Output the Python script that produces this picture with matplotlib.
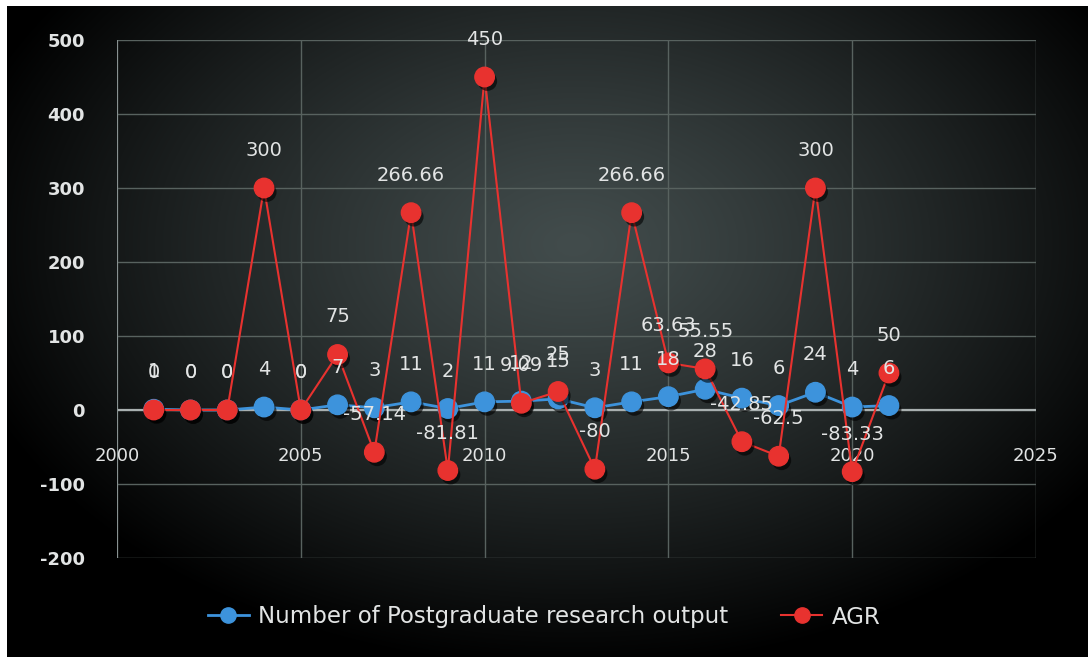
import numpy as np
import matplotlib
matplotlib.use("Agg")
import matplotlib.pyplot as plt
import matplotlib.patheffects as pe
from matplotlib.lines import Line2D

# data
years = [2001, 2002, 2003, 2004, 2005, 2006, 2007, 2008, 2009, 2010, 2011,
         2012, 2013, 2014, 2015, 2016, 2017, 2018, 2019, 2020, 2021]
output = [1, 0, 0, 4, 0, 7, 3, 11, 2, 11, 12, 15, 3, 11, 18, 28, 16, 6, 24, 4, 6]
agr = [0, 0, 0, 300, 0, 75, -57.14, 266.66, -81.81, 450, 9.09, 25, -80,
       266.66, 63.63, 55.55, -42.85, -62.5, 300, -83.33, 50]
output_labels = [str(v) for v in output]
agr_labels = ["0", "0", "0", "300", "0", "75", "-57.14", "266.66", "-81.81",
              "450", "9.09", "25", "-80", "266.66", "63.63", "55.55", "-42.85",
              "-62.5", "300", "-83.33", "50"]
xticks = [2000, 2005, 2010, 2015, 2020, 2025]
yticks = [-200, -100, 0, 100, 200, 300, 400, 500]

blue = "#3d93dc"
red = "#e8322f"
txt = "#e2e4e4"
grid_c = "#58625f"

W, H = 1088, 657
fig = plt.figure(figsize=(W / 100, H / 100), dpi=100, facecolor="white")

# dark radial background
bg = fig.add_axes([7 / W, 0, 1 - 7 / W, 1 - 6 / H])
yy, xx = np.mgrid[0:H, 0:W]
r = np.sqrt(((xx - 570) / 640.0) ** 2 + ((yy - 240) / 430.0) ** 2)
t = np.clip(r, 0, 1) ** 1.2
c0 = np.array([0x42, 0x4c, 0x4c]) / 255.0
img = c0[None, None, :] * (1 - t[..., None])
bg.imshow(img, aspect="auto", extent=[0, 1, 0, 1], origin="upper")
bg.set_axis_off()

ax = fig.add_axes([117 / W, 1 - 558 / H, (1036 - 117) / W, (558 - 40) / H])
ax.patch.set_alpha(0)
ax.set_xlim(2000, 2025)
ax.set_ylim(-200, 500)

for x in xticks:
    ax.axvline(x, color=grid_c, lw=1, zorder=1)
for y in yticks:
    ax.axhline(y, color=grid_c, lw=1, zorder=1)
ax.axhline(0, color="#a9b0b0", lw=1.6, zorder=2)
ax.axvline(2000, color="#8a9393", lw=1.4, zorder=2)
for s in ax.spines.values():
    s.set_visible(False)

ax.set_xticks([])
ax.set_yticks(yticks)
ax.set_yticklabels([str(v) for v in yticks], color=txt, fontsize=13,
                   fontweight="bold")
ax.tick_params(axis="y", length=0, pad=23)

for x in xticks:
    ax.annotate(str(x), (x, 0), xytext=(0, -33), textcoords="offset points",
                ha="center", va="center", color=txt, fontsize=13)

shadow = [pe.SimplePatchShadow(offset=(2, -3), shadow_rgbFace="black", alpha=0.6),
          pe.Normal()]

ax.plot(years, output, color=blue, lw=2, zorder=3)
ax.plot(years, output, ls="none", marker="o", ms=14, color=blue, zorder=4,
        path_effects=shadow)
ax.plot(years, agr, color=red, lw=1.5, zorder=5)
ax.plot(years, agr, ls="none", marker="o", ms=14, color=red, zorder=6,
        path_effects=shadow)

for x, y, lab in zip(years, output, output_labels):
    ax.annotate(lab, (x, y), xytext=(0, 27), textcoords="offset points",
                ha="center", va="center", color=txt, fontsize=14, zorder=8)
for x, y, lab in zip(years, agr, agr_labels):
    ax.annotate(lab, (x, y), xytext=(0, 27), textcoords="offset points",
                ha="center", va="center", color=txt, fontsize=14, zorder=8)

handles = [Line2D([], [], color=blue, lw=2, marker="o", ms=11),
           Line2D([], [], color=red, lw=1.5, marker="o", ms=11)]
leg = fig.legend(handles, ["Number of Postgraduate research output", "AGR"],
                 loc="center", bbox_to_anchor=(0.5, 1 - 617 / H), ncol=2,
                 frameon=False, fontsize=16.5, handlelength=1.8,
                 handletextpad=0.4, columnspacing=2.3)
for t_ in leg.get_texts():
    t_.set_color(txt)

fig.savefig("out.png", dpi=100, facecolor="white")
